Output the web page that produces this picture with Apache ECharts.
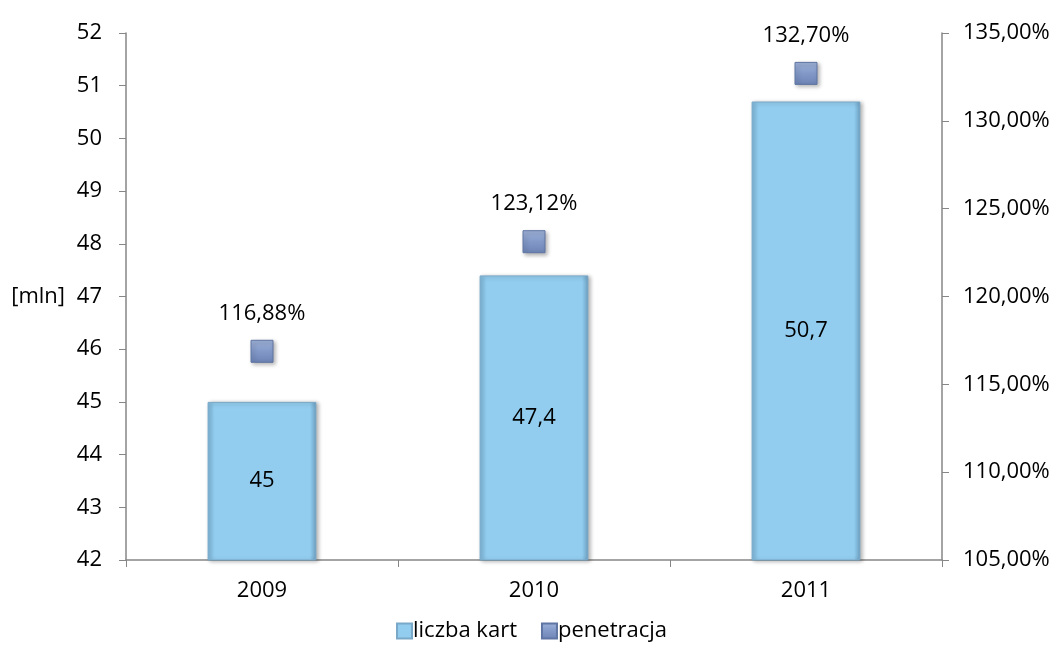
<!DOCTYPE html>
<html>
<head>
<meta charset="utf-8">
<script src="https://cdn.jsdelivr.net/npm/echarts@6/dist/echarts.min.js"></script>
<style>
  html, body { margin: 0; padding: 0; background: #fff; }
  #chart { width: 1063px; height: 650px; }
</style>
</head>
<body>
<div id="chart"></div>
<script>
// dane z wykresu
const years = ['2009', '2010', '2011']
const cards = [45, 47.4, 50.7]          // liczba kart [mln]
const penetration = [116.88, 123.12, 132.70] // penetracja [%]

const font = 'Open Sans'
const fs = 22
const pct = v => v.toFixed(2).replace('.', ',') + '%'
const num = v => String(v).replace('.', ',')

const chart = echarts.init(document.getElementById('chart'))
chart.setOption({
    animation: false,
    textStyle: { fontFamily: font },
    grid: { left: 126, right: 121, top: 33, bottom: 90 },
    legend: {
        bottom: 3,
        left: 'center',
        itemWidth: 15,
        itemHeight: 15,
        itemGap: 24,
        textStyle: { fontFamily: font, fontSize: fs, color: '#000', padding: [0, 0, 0, -4] },
        data: [
            { name: 'liczba kart', icon: 'rect' },
            { name: 'penetracja', icon: 'rect' }
        ]
    },
    xAxis: {
        type: 'category',
        data: years,
        axisLine: { lineStyle: { color: '#868686', width: 1.5 } },
        axisTick: { show: true, length: 7, lineStyle: { color: '#868686' } },
        axisLabel: { color: '#000', fontSize: fs, margin: 20, fontFamily: font }
    },
    yAxis: [
        {
            type: 'value',
            min: 42, max: 52, interval: 1,
            name: '[mln]',
            nameLocation: 'middle',
            nameRotate: 0,
            nameGap: 61,
            nameTextStyle: { color: '#000', fontSize: fs, fontFamily: font, align: 'right' },
            axisLine: { show: true, lineStyle: { color: '#868686', width: 1.5 } },
            axisTick: { show: true, length: 7, lineStyle: { color: '#868686' } },
            splitLine: { show: false },
            axisLabel: { color: '#000', fontSize: fs, margin: 24, fontFamily: font }
        },
        {
            type: 'value',
            min: 105, max: 135, interval: 5,
            position: 'right',
            axisLine: { show: true, lineStyle: { color: '#868686', width: 1.5 } },
            axisTick: { show: true, length: 7, lineStyle: { color: '#868686' } },
            splitLine: { show: false },
            axisLabel: { color: '#000', fontSize: fs, margin: 21, fontFamily: font, formatter: pct }
        }
    ],
    series: [
        {
            name: 'liczba kart',
            type: 'bar',
            data: cards,
            barWidth: '40%',
            itemStyle: {
                color: new echarts.graphic.LinearGradient(0, 0, 1, 0, [
                    { offset: 0, color: '#7db5d8' },
                    { offset: 0.06, color: '#92cdef' },
                    { offset: 0.94, color: '#92cdef' },
                    { offset: 1, color: '#6c9fc0' }
                ]),
                borderColor: '#7aa8c8',
                borderWidth: 1,
                shadowColor: 'rgba(0,0,0,0.3)',
                shadowBlur: 4,
                shadowOffsetX: 2,
                shadowOffsetY: 1
            },
            label: {
                show: true,
                position: 'inside',
                color: '#000',
                fontSize: fs,
                fontFamily: font,
                formatter: p => num(p.value)
            }
        },
        {
            name: 'penetracja',
            type: 'line',
            yAxisIndex: 1,
            data: penetration,
            symbol: 'rect',
            symbolSize: 22,
            lineStyle: { width: 0, opacity: 0 },
            itemStyle: {
                color: new echarts.graphic.LinearGradient(0, 0, 0, 1, [
                    { offset: 0, color: '#9fb2d8' },
                    { offset: 0.5, color: '#8299c8' },
                    { offset: 1, color: '#6c83b4' }
                ]),
                borderColor: '#5f75a3',
                borderWidth: 1,
                shadowColor: 'rgba(0,0,0,0.3)',
                shadowBlur: 4,
                shadowOffsetX: 2,
                shadowOffsetY: 2
            },
            label: {
                show: true,
                position: 'top',
                distance: 15,
                color: '#000',
                fontSize: fs,
                fontFamily: font,
                formatter: p => pct(p.value)
            }
        }
    ]
})
</script>
</body>
</html>
